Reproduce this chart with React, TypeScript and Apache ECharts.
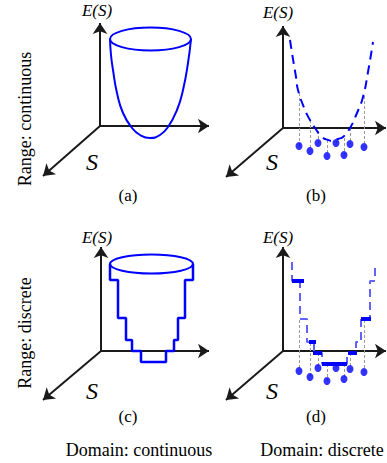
import React, { useEffect, useRef } from "react";
import * as echarts from "echarts";

const BLUE = "#0000ff";
const LIGHT_BLUE = "#6262ff";
const GRAY = "#9a9a9a";

// axis segments: [x0, y0, x1, y1] (arrow at x1,y1)
const axisSegments: number[][] = [
  [100, 126, 209, 126], [100, 126, 100, 23], [100, 126, 43, 176],
  [283, 128, 386, 128], [283, 128, 283, 26], [283, 128, 226, 177],
  [101, 351, 209, 351], [101, 351, 101, 247], [101, 351, 43, 400],
  [283, 351, 386, 351], [283, 351, 283, 247], [283, 351, 226, 400],
];

// (a) continuous parabola
const curveA: number[][] = [
  [110, 39], [111, 55], [113, 70], [117, 93], [123, 113], [132, 128], [140, 135],
  [150, 138], [160, 135], [168, 127], [177, 110], [183, 90], [188, 63], [191, 39],
];
// ellipses: [cx, cy, rx, ry]
const ellipses: number[][] = [
  [150.5, 39, 40.5, 11.5],
  [151.5, 264, 41.5, 9.5],
];

// (b) dashed parabola
const curveB: number[][] = [
  [290, 40], [292, 53], [296, 77], [298, 90], [305, 110], [310, 120], [315, 128],
  [322, 137], [328, 140], [333, 141], [338, 139], [343, 137], [350, 128], [357, 113],
  [363, 97], [368, 72], [373, 42],
];

// discrete domain points
const dotsX = [299, 310, 318, 327, 336, 344, 350, 364];
const dotsYB = [146, 151, 143, 156, 143, 155, 144, 147];
const dotsYD = [371, 377, 368, 381, 368, 379, 369, 372];
const guideTopB = [93, 120, 131, 140, 141, 138, 128, 96];
const guideTopD = [320, 343, 353, 364, 364, 364, 353, 320];

// (c) continuous-domain staircase
const stairC: number[][] = [
  [110, 264], [110, 280], [118, 280], [118, 318], [126, 318], [126, 340], [132, 340],
  [132, 351], [141, 351], [141, 362], [166, 362], [166, 351], [174, 351], [174, 340],
  [178, 340], [178, 318], [185, 318], [185, 280], [193, 280], [193, 264],
];

// (d) dashed staircase and discrete levels [x1, x2, y]
const stairD: number[][] = [
  [292, 262], [292, 281], [300, 281], [300, 319], [307, 319], [307, 342], [314, 342],
  [314, 353], [322, 353], [322, 364], [347, 364], [347, 353], [356, 353], [356, 342],
  [361, 342], [361, 319], [370, 319], [370, 281], [375, 281], [375, 263],
];
const barsD: number[][] = [
  [292, 304, 281], [309, 316, 342], [313, 322, 353], [322, 347, 364], [348, 357, 353], [361, 371, 319],
];

const panelLetters = ["(a)", "(b)", "(c)", "(d)"];
const rangeLabels = ["Range: continuous", "Range: discrete"];
const domainLabels = ["Domain: continuous", "Domain: discrete"];

const SERIF = '"Liberation Serif", "Times New Roman", serif';

export default function App() {
  const ref = useRef<HTMLDivElement>(null);
  useEffect(() => {
    document.body.style.margin = "0";
    const chart = echarts.init(ref.current!, null, { renderer: "svg" });

    const guides = (tops: number[], ys: number[]) =>
      dotsX.map((x, i) => ({ coords: [[x, tops[i]], [x, ys[i]]] }));

    const letterPos = [[128, 195], [316, 195], [128, 416], [316, 416]];
    const esPos = [[97, 10], [278, 12], [97, 237], [278, 237]];
    const sPos = [[92, 162], [272, 162], [92, 391], [272, 391]];

    const graphic: any[] = [];
    esPos.forEach((p) =>
      graphic.push({
        type: "text", x: p[0], y: p[1],
        style: { text: "E(S)", fontFamily: SERIF, fontStyle: "italic", fontSize: 17, fill: "#000", align: "center", verticalAlign: "middle" },
      })
    );
    sPos.forEach((p) =>
      graphic.push({
        type: "text", x: p[0], y: p[1],
        style: { text: "S", fontFamily: SERIF, fontStyle: "italic", fontSize: 24, fill: "#000", align: "center", verticalAlign: "middle" },
      })
    );
    panelLetters.forEach((t, i) =>
      graphic.push({
        type: "text", x: letterPos[i][0], y: letterPos[i][1],
        style: { text: t, fontFamily: SERIF, fontSize: 17, fill: "#000", align: "center", verticalAlign: "middle" },
      })
    );
    rangeLabels.forEach((t, i) =>
      graphic.push({
        type: "text", x: 25, y: i === 0 ? 119 : 333, rotation: Math.PI / 2,
        style: { text: t, fontFamily: SERIF, fontSize: 18, fill: "#000", align: "center", verticalAlign: "middle" },
      })
    );
    domainLabels.forEach((t, i) =>
      graphic.push({
        type: "text", x: i === 0 ? 139 : 322, y: 450,
        style: { text: t, fontFamily: SERIF, fontSize: 18, fill: "#000", align: "center", verticalAlign: "middle" },
      })
    );

    chart.setOption({
      animation: false,
      grid: { left: 0, right: 0, top: 0, bottom: 0 },
      xAxis: { type: "value", min: 0, max: 387, show: false, splitLine: { show: false } },
      yAxis: { type: "value", min: 0, max: 463, inverse: true, show: false, splitLine: { show: false } },
      graphic,
      series: [
        {
          type: "lines", coordinateSystem: "cartesian2d", silent: true,
          symbol: ["none", "arrow"], symbolSize: 11,
          lineStyle: { color: "#1a1a1a", width: 2, opacity: 1 },
          data: axisSegments.map((s) => ({ coords: [[s[0], s[1]], [s[2], s[3]]] })),
          z: 2,
        },
        {
          type: "custom", silent: true, z: 3,
          renderItem: (params: any, api: any) => {
            const c = api.coord([api.value(0), api.value(1)]);
            const s = api.size([api.value(2), api.value(3)]);
            return {
              type: "ellipse",
              shape: { cx: c[0], cy: c[1], rx: Math.abs(s[0]), ry: Math.abs(s[1]) },
              style: { fill: "none", stroke: BLUE, lineWidth: 2 },
            };
          },
          data: ellipses,
        },
        {
          type: "line", data: curveA, smooth: true, showSymbol: false, silent: true, z: 3,
          lineStyle: { color: BLUE, width: 2 },
        },
        {
          type: "line", data: stairC, showSymbol: false, silent: true, z: 3,
          lineStyle: { color: BLUE, width: 2.5 },
        },
        {
          type: "line", data: curveB, smooth: true, showSymbol: false, silent: true, z: 3,
          lineStyle: { color: BLUE, width: 2, type: [9, 6] },
        },
        {
          type: "lines", coordinateSystem: "cartesian2d", silent: true, z: 2,
          lineStyle: { color: GRAY, width: 1, type: [3, 2], opacity: 1 },
          data: [...guides(guideTopB, dotsYB), ...guides(guideTopD, dotsYD)],
        },
        {
          type: "line", data: stairD, showSymbol: false, silent: true, z: 3,
          lineStyle: { color: LIGHT_BLUE, width: 2, type: [8, 5] },
        },
        {
          type: "lines", coordinateSystem: "cartesian2d", silent: true, z: 4,
          lineStyle: { color: BLUE, width: 4, opacity: 1 },
          data: barsD.map((b) => ({ coords: [[b[0], b[2]], [b[1], b[2]]] })),
        },
        {
          type: "scatter", silent: true, z: 5, symbol: "circle", symbolSize: [7, 8],
          itemStyle: { color: BLUE },
          data: [...dotsX.map((x, i) => [x, dotsYB[i]]), ...dotsX.map((x, i) => [x, dotsYD[i]])],
        },
      ],
    });
    return () => chart.dispose();
  }, []);
  return <div ref={ref} style={{ width: 387, height: 463 }} />;
}
